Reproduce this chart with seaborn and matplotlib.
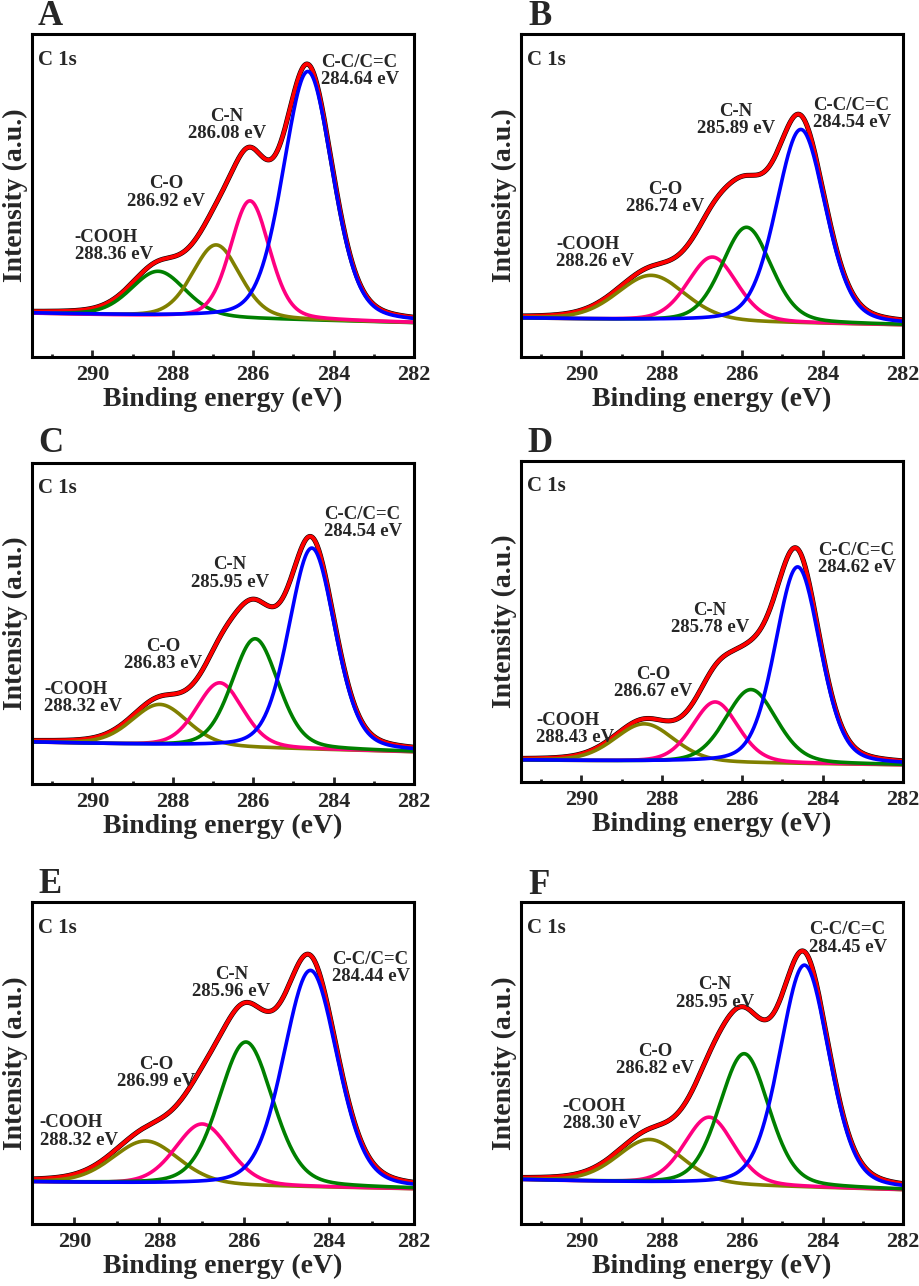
import numpy as np
import matplotlib
matplotlib.use("Agg")
import matplotlib.pyplot as plt
from matplotlib.ticker import MultipleLocator
import seaborn as sns

# ---- data (intensity in arbitrary units, 0..1 of the axis) ----
panels = ["A", "B", "C", "D", "E", "F"]
peak_names = ["C-C/C=C", "C-N", "C-O", "-COOH"]

# binding energies of the fitted components (eV), order as peak_names
peak_centers = [
    [284.64, 286.08, 286.92, 288.36],
    [284.54, 285.89, 286.74, 288.26],
    [284.54, 285.95, 286.83, 288.32],
    [284.62, 285.78, 286.67, 288.43],
    [284.44, 285.96, 286.99, 288.32],
    [284.45, 285.95, 286.82, 288.30],
]
# peak heights above background (a.u.)
peak_heights = [
    [0.770, 0.365, 0.226, 0.140],
    [0.600, 0.294, 0.200, 0.140],
    [0.627, 0.340, 0.200, 0.128],
    [0.613, 0.229, 0.189, 0.118],
    [0.673, 0.447, 0.190, 0.134],
    [0.690, 0.410, 0.210, 0.136],
]
# full width at half maximum (eV)
peak_fwhm = [
    [1.45, 1.15, 1.40, 1.60],
    [1.45, 1.45, 1.45, 2.00],
    [1.36, 1.36, 1.36, 1.65],
    [1.32, 1.50, 1.35, 1.75],
    [1.50, 1.50, 1.50, 1.85],
    [1.45, 1.45, 1.45, 1.90],
]
# background level at high / low binding energy end
bg_high = [0.135, 0.120, 0.130, 0.068, 0.130, 0.137]
bg_low = [0.106, 0.099, 0.100, 0.053, 0.109, 0.106]
# x range (high BE end) of each panel
be_max = [291.5, 291.5, 291.5, 291.5, 291.0, 291.5]
be_min = 282.0

# ---- styling / layout ----
colors_A = ["#0000FF", "#FF0080", "#808000", "#008000"]
colors_rest = ["#0000FF", "#008000", "#FF0080", "#808000"]
gl_mix = 0.25  # lorentzian fraction of the pseudo-voigt shape

label_x = [
    [283.34, 286.66, 288.17, 289.47],
    [283.27, 286.15, 287.92, 289.66],
    [283.27, 286.57, 288.23, 290.22],
    [283.15, 286.80, 288.21, 290.15],
    [283.02, 286.30, 288.07, 289.90],
    [283.36, 286.67, 288.17, 289.49],
]
label_y = [
    [0.886, 0.718, 0.509, 0.344],
    [0.752, 0.734, 0.493, 0.323],
    [0.812, 0.656, 0.402, 0.267],
    [0.694, 0.507, 0.309, 0.164],
    [0.794, 0.749, 0.468, 0.287],
    [0.887, 0.716, 0.509, 0.339],
]
label_align = ["left", "center", "center", "left"]

W, H = 920, 1286
ax_rects = [
    (32, 34, 382, 323), (521, 34, 382, 323),
    (32, 463, 382, 321), (521, 461, 382, 321),
    (32, 902, 382, 322), (521, 902, 382, 322),
]
letter_pos = [(38, 25), (528, 25), (38, 452), (527, 452), (38, 893), (528, 894)]

sns.set_theme(style="ticks")
plt.rcParams["font.family"] = ["Liberation Serif", "DejaVu Serif"]
plt.rcParams["font.weight"] = "bold"
plt.rcParams["axes.labelweight"] = "bold"


def pvoigt(x, c, h, w):
    s = w / 2.3548
    g = np.exp(-0.5 * ((x - c) / s) ** 2)
    l = 1.0 / (1.0 + ((x - c) / (w / 2)) ** 2)
    return h * (gl_mix * l + (1 - gl_mix) * g)


fig = plt.figure(figsize=(W / 100, H / 100), dpi=100)

for i, name in enumerate(panels):
    x0, y0, w, h = ax_rects[i]
    ax = fig.add_axes([x0 / W, 1 - (y0 + h) / H, w / W, h / H])
    x = np.linspace(be_min, be_max[i], 700)
    bg = np.interp(x, [be_min, be_max[i]], [bg_low[i], bg_high[i]])
    comps = [pvoigt(x, c, hh, ww) for c, hh, ww in
             zip(peak_centers[i], peak_heights[i], peak_fwhm[i])]
    envelope = bg + np.sum(comps, axis=0)

    sns.lineplot(x=x, y=envelope, ax=ax, color="black", lw=3.6, sort=False)
    sns.lineplot(x=x, y=envelope, ax=ax, color="#FF0000", lw=2.8, sort=False)
    cols = colors_A if name == "A" else colors_rest
    for k in range(3, -1, -1):
        sns.lineplot(x=x, y=bg + comps[k], ax=ax, color=cols[k], lw=2.6, sort=False)

    for k, pname in enumerate(peak_names):
        ax.text(label_x[i][k], label_y[i][k],
                f"{pname}\n{peak_centers[i][k]:.2f} eV",
                ha="center", va="center", multialignment=label_align[k],
                fontsize=13.5, fontweight="bold", linespacing=1.02)
    ax.text(0.016, 0.905, "C 1s", transform=ax.transAxes, fontsize=15,
            fontweight="bold", va="baseline", ha="left")

    ax.set_xlim(be_max[i], be_min)
    ax.set_ylim(0, 1)
    ax.set_yticks([])
    ax.xaxis.set_major_locator(MultipleLocator(2))
    ax.xaxis.set_minor_locator(MultipleLocator(1))
    ax.tick_params(axis="x", which="major", direction="in", length=5, width=2,
                   labelsize=16, pad=6)
    ax.tick_params(axis="x", which="minor", direction="in", length=2.5, width=2)
    for sp in ax.spines.values():
        sp.set_linewidth(2.2)
        sp.set_color("black")
    ax.set_xlabel("Binding energy (eV)", fontsize=20, fontweight="bold", labelpad=1)
    ax.set_ylabel("Intensity (a.u.)", fontsize=20, fontweight="bold", labelpad=3)

    lx, ly = letter_pos[i]
    fig.text(lx / W, 1 - ly / H, name, fontsize=25, fontweight="bold",
             ha="left", va="baseline")

fig.savefig("out.png", dpi=100)
